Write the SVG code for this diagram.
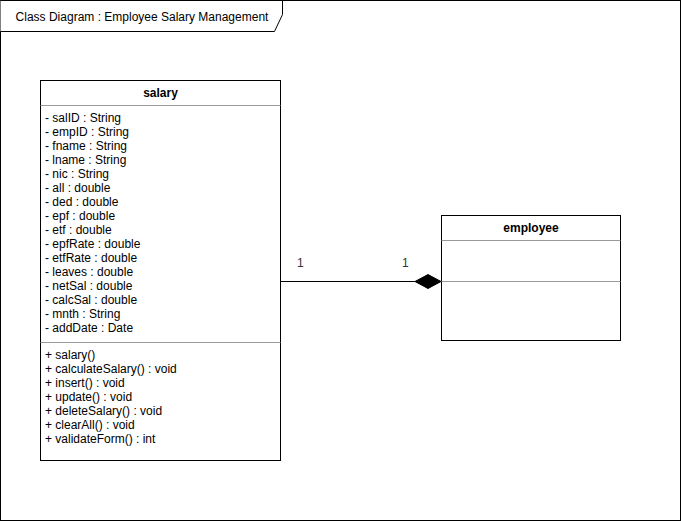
<svg xmlns="http://www.w3.org/2000/svg" width="681" height="521" viewBox="0 0 681 521">
<style>
text{font-family:"Liberation Sans",Arial,sans-serif;font-size:12px;fill:#000}
.h{font-weight:bold;text-anchor:middle}
.box{fill:#fff;stroke:#000;stroke-width:1}
.div{stroke:#999;stroke-width:1}
.lbl{fill:#333}
</style>
<rect width="681" height="521" fill="#fff"/>
<g id="frame">
<rect x="0.5" y="0.5" width="680" height="520" fill="none" stroke="#000"/>
<path d="M0.5,0.5 L282.5,0.5 L282.5,14.5 L274.5,31.5 L0.5,31.5" fill="#fff" stroke="#000"/>
<text x="142" y="21" text-anchor="middle">Class Diagram : Employee Salary Management</text>
</g>
<g id="salary">
<rect class="box" x="40.5" y="80.5" width="240" height="380"/>
<text class="h" x="160.5" y="97">salary</text>
<line class="div" x1="40.5" y1="105.5" x2="280.5" y2="105.5"/>
<text x="45" y="122">- salID : String</text>
<text x="45" y="136">- empID : String</text>
<text x="45" y="150">- fname : String</text>
<text x="45" y="164">- lname : String</text>
<text x="45" y="178">- nic : String</text>
<text x="45" y="192">- all : double</text>
<text x="45" y="206">- ded : double</text>
<text x="45" y="220">- epf : double</text>
<text x="45" y="234">- etf : double</text>
<text x="45" y="248">- epfRate : double</text>
<text x="45" y="262">- etfRate : double</text>
<text x="45" y="276">- leaves : double</text>
<text x="45" y="290">- netSal : double</text>
<text x="45" y="304">- calcSal : double</text>
<text x="45" y="318">- mnth : String</text>
<text x="45" y="332">- addDate : Date</text>
<line class="div" x1="40.5" y1="342.5" x2="280.5" y2="342.5"/>
<text x="45" y="359">+ salary()</text>
<text x="45" y="373">+ calculateSalary() : void</text>
<text x="45" y="387">+ insert() : void</text>
<text x="45" y="401">+ update() : void</text>
<text x="45" y="415">+ deleteSalary() : void</text>
<text x="45" y="429">+ clearAll() : void</text>
<text x="45" y="443">+ validateForm() : int</text>
</g>
<g id="employee">
<rect class="box" x="441.5" y="215.5" width="179" height="125"/>
<text class="h" x="531" y="232">employee</text>
<line class="div" x1="441.5" y1="240.5" x2="620.5" y2="240.5"/>
<line class="div" x1="441.5" y1="281.5" x2="620.5" y2="281.5"/>
</g>
<g id="connectors">
<line x1="280.5" y1="281.5" x2="415" y2="281.5" stroke="#000"/>
<path d="M441,281.5 L428,274.5 L415,281.5 L428,288.5 Z" fill="#000" stroke="#000"/>
<text class="lbl" x="297" y="267">1</text>
<text class="lbl" x="402" y="267">1</text>
</g>
</svg>
